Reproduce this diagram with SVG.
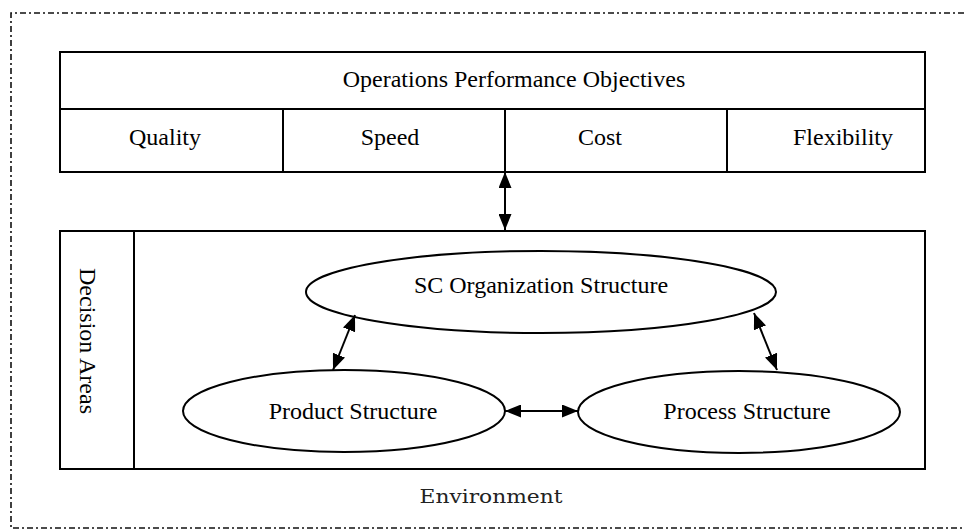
<svg xmlns="http://www.w3.org/2000/svg" width="964" height="530" viewBox="0 0 964 530">
<defs>
<style>
.box{fill:none;stroke:#000;stroke-width:2}
.ell{fill:#fff;stroke:#000;stroke-width:2}
.t{font-family:"Liberation Serif","Times New Roman",serif;font-size:24px;fill:#000}
.m{text-anchor:middle}
.con{stroke:#000;stroke-width:2;fill:none;marker-start:url(#ah);marker-end:url(#ah)}
.env{fill:none;stroke:#111;stroke-width:1.6;stroke-dasharray:6 3 2 3}
</style>
<marker id="ah" viewBox="0 0 16 13" refX="16" refY="6.5" markerWidth="16" markerHeight="13" markerUnits="userSpaceOnUse" orient="auto-start-reverse">
<path d="M0,0 L16,6.5 L0,13 z" fill="#000"/>
</marker>
</defs>
<rect width="964" height="530" fill="#fff"/>
<g id="environment">
<path class="env" d="M964,13 H11 V528 H964"/>
<text x="491" y="503" text-anchor="middle" font-family="'DejaVu Serif',serif" font-size="19" fill="#222" textLength="143" lengthAdjust="spacingAndGlyphs">Environment</text>
</g>
<g id="objectives">
<rect class="box" x="60" y="52" width="865" height="120"/>
<line class="box" x1="60" y1="109" x2="925" y2="109"/>
<line class="box" x1="283" y1="109" x2="283" y2="172"/>
<line class="box" x1="505" y1="109" x2="505" y2="172"/>
<line class="box" x1="727" y1="109" x2="727" y2="172"/>
<text class="t m" x="514" y="87">Operations Performance Objectives</text>
<text class="t m" x="165" y="145">Quality</text>
<text class="t m" x="390" y="145">Speed</text>
<text class="t m" x="600" y="145">Cost</text>
<text class="t m" x="843" y="145">Flexibility</text>
</g>
<g id="decision-areas">
<rect class="box" x="60" y="231" width="865" height="238"/>
<line class="box" x1="134" y1="231" x2="134" y2="469"/>
<text class="t m" transform="translate(80,341) rotate(90)" x="0" y="0">Decision Areas</text>
</g>
<g id="sc-organization">
<ellipse class="ell" cx="541" cy="292" rx="235" ry="41"/>
<text class="t m" x="541" y="293">SC Organization Structure</text>
</g>
<g id="product">
<ellipse class="ell" cx="344" cy="411" rx="161" ry="41"/>
<text class="t m" x="353" y="419">Product Structure</text>
</g>
<g id="process">
<ellipse class="ell" cx="739" cy="412" rx="161" ry="41"/>
<text class="t m" x="747" y="419">Process Structure</text>
</g>
<g id="connectors">
<line class="con" x1="505" y1="172" x2="505" y2="230"/>
<line class="con" x1="355" y1="315" x2="333" y2="370"/>
<line class="con" x1="754" y1="313" x2="777" y2="370"/>
<line class="con" x1="505" y1="411" x2="578" y2="411"/>
</g>
</svg>
